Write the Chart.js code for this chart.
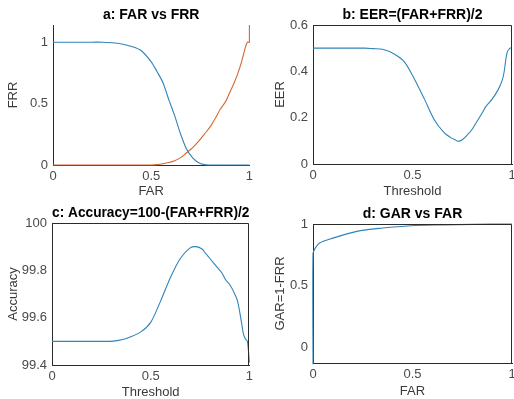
<!DOCTYPE html>
<html><head><meta charset="utf-8">
<script src="https://cdn.jsdelivr.net/npm/chart.js@4.4.0/dist/chart.umd.min.js"></script>
<style>
html,body{margin:0;padding:0;width:514px;height:399px;overflow:hidden;background:#fff;}
canvas{position:absolute;display:block;}
</style></head><body>
<canvas id="ca" width="257" height="210" style="left:0;top:0"></canvas>
<canvas id="cb" width="265" height="210" style="left:257px;top:0"></canvas>
<canvas id="cc" width="257" height="210" style="left:0;top:198px"></canvas>
<canvas id="cd" width="265" height="210" style="left:257px;top:198px"></canvas>
<script>
// ---- tick labels ----
const xTicks = [0, 0.5, 1];
const ticksA = [0, 0.5, 1];
const ticksB = [0, 0.2, 0.4, 0.6];
const ticksC = [99.4, 99.6, 99.8, 100];
const ticksD = [0, 0.5, 1];

// ---- panel a: FAR vs FRR ----
const thrA = [0, 0.1, 0.2, 0.25, 0.3, 0.35, 0.4, 0.45, 0.5, 0.53, 0.56, 0.59, 0.62, 0.65, 0.68, 0.71, 0.74, 0.77, 0.8, 0.83, 0.85, 0.88, 0.9, 0.92, 0.94, 0.96, 0.98, 0.99, 1, 1];
const frrA = [1, 1, 1, 1, 0.995, 0.985, 0.965, 0.93, 0.84, 0.76, 0.67, 0.53, 0.4, 0.25, 0.13, 0.06, 0.02, 0.003, 0, 0, 0, 0, 0, 0, 0, 0, 0, 0, 0, 0];
const farA = [0, 0, 0, 0, 0, 0, 0, 0, 0, 0.003, 0.01, 0.02, 0.035, 0.06, 0.1, 0.14, 0.19, 0.25, 0.31, 0.39, 0.45, 0.52, 0.59, 0.66, 0.74, 0.84, 0.96, 1, 1, 1.14];

// ---- panel b: EER ----
const thrB = [0, 0.1, 0.2, 0.26, 0.3, 0.35, 0.41, 0.46, 0.51, 0.56, 0.61, 0.66, 0.69, 0.72, 0.73, 0.75, 0.77, 0.8, 0.82, 0.85, 0.87, 0.9, 0.93, 0.95, 0.96, 0.975, 0.99, 1];
const eerB = [0.5, 0.5, 0.5, 0.5, 0.498, 0.495, 0.474, 0.44, 0.366, 0.28, 0.19, 0.134, 0.115, 0.102, 0.098, 0.105, 0.12, 0.15, 0.178, 0.22, 0.25, 0.28, 0.32, 0.36, 0.395, 0.48, 0.5, 0.5];

// ---- panel c: Accuracy ----
const thrC = [0, 0.1, 0.2, 0.29, 0.33, 0.38, 0.45, 0.5, 0.55, 0.6, 0.65, 0.7, 0.73, 0.76, 0.78, 0.8, 0.83, 0.86, 0.88, 0.9, 0.92, 0.94, 0.96, 0.97, 0.98, 0.99, 1];
const accC = [99.5, 99.5, 99.5, 99.5, 99.503, 99.513, 99.54, 99.58, 99.67, 99.77, 99.85, 99.895, 99.9, 99.89, 99.87, 99.85, 99.82, 99.79, 99.76, 99.74, 99.71, 99.67, 99.58, 99.53, 99.51, 99.5, 99.41];

// ---- panel d: GAR vs FAR ----
const farD = [0, 0, 0.01, 0.033, 0.1, 0.22, 0.35, 0.49, 0.65, 0.8, 1];
const garD = [-0.14, 0.76, 0.8, 0.845, 0.885, 0.94, 0.967, 0.986, 0.993, 0.997, 1];

const F = '"Liberation Sans", Arial, sans-serif';
const BLUE = '#2f84b8', ORANGE = '#d6682f', AXIS = '#2b2b2b', TICK = '#4a4a4a', LAB = '#3a3a3a';

const boxPlugin = {
  id: 'box',
  afterDatasetsDraw(chart, args, opts) {
    if (!opts.on) return;
    const a = chart.chartArea, ctx = chart.ctx;
    ctx.save();
    ctx.strokeStyle = AXIS; ctx.lineWidth = 1;
    const t = Math.round(a.top) + 0.5, r = Math.round(a.right) - 0.5;
    ctx.beginPath();
    ctx.moveTo(a.left, t); ctx.lineTo(r, t); ctx.lineTo(r, a.bottom);
    ctx.stroke();
    ctx.restore();
  }
};

function pts(xs, ys) { return xs.map((x, i) => ({x: x, y: ys[i]})); }

function panel(id, g) {
  new Chart(document.getElementById(id), {
    type: 'line',
    data: { datasets: g.sets.map(s => ({
      data: s.data, borderColor: s.color, borderWidth: 1.1, pointRadius: 0,
      tension: 0.3, fill: false, clip: 2
    })) },
    options: {
      responsive: false, animation: false, events: [],
      layout: { padding: { left: 0, right: g.pr, top: 0, bottom: 0 } },
      plugins: {
        legend: { display: false }, tooltip: { enabled: false },
        title: { display: true, text: g.title, fullSize: false, color: '#000',
          font: { family: F, size: 14, weight: 'bold' }, padding: { top: g.tt, bottom: 1.6 } },
        box: { on: g.box }
      },
      scales: {
        x: {
          type: 'linear', min: 0, max: 1,
          afterBuildTicks: s => { s.ticks = xTicks.map(v => ({value: v})); },
          afterFit: s => { s.height = g.xh; },
          grid: { display: false, drawTicks: false },
          border: { display: true, color: AXIS, width: 1 },
          ticks: { padding: 4, color: TICK, font: { family: F, size: 13 }, maxRotation: 0, autoSkip: false, callback: v => String(v) },
          title: { display: true, text: g.xl, color: LAB, font: { family: F, size: 13 }, padding: { top: 0, bottom: g.xlb } }
        },
        y: {
          type: 'linear', min: g.ymin, max: g.ymax,
          afterBuildTicks: s => { s.ticks = g.yt.map(v => ({value: v})); },
          afterFit: s => { s.width = g.yw; },
          grid: { display: false, drawTicks: false },
          border: { display: true, color: AXIS, width: 1 },
          ticks: { padding: 5, color: TICK, font: { family: F, size: 13 }, autoSkip: false, callback: v => String(v) },
          title: { display: true, text: g.yl, color: LAB, font: { family: F, size: 13 }, padding: { top: g.ylp, bottom: 0 } }
        }
      }
    },
    plugins: [boxPlugin]
  });
}

panel('ca', { title: 'a: FAR vs FRR', xl: 'FAR', yl: 'FRR', ymin: 0, ymax: 1.14, yt: ticksA,
  pr: 7, yw: 53, xh: 45, tt: 6.6, ylp: 5.2, xlb: 11.2, box: false,
  sets: [{ data: pts(thrA, frrA), color: BLUE }, { data: pts(thrA, farA), color: ORANGE }] });

panel('cb', { title: 'b: EER=(FAR+FRR)/2', xl: 'Threshold', yl: 'EER', ymin: 0, ymax: 0.6, yt: ticksB,
  pr: 10, yw: 56, xh: 46, tt: 6.6, ylp: 15.2, xlb: 11.2, box: true,
  sets: [{ data: pts(thrB, eerB), color: BLUE }] });

panel('cc', { title: 'c: Accuracy=100-(FAR+FRR)/2', xl: 'Threshold', yl: 'Accuracy', ymin: 99.4, ymax: 100, yt: ticksC,
  pr: 7, yw: 52, xh: 43, tt: 6.6, ylp: 5.2, xlb: 8.2, box: true,
  sets: [{ data: pts(thrC, accC), color: BLUE }] });

panel('cd', { title: 'd: GAR vs FAR', xl: 'FAR', yl: 'GAR=1-FRR', ymin: -0.13, ymax: 1, yt: ticksD,
  pr: 10, yw: 56, xh: 45, tt: 7.6, ylp: 15.2, xlb: 9.2, box: true,
  sets: [{ data: pts(farD, garD), color: BLUE }] });
</script>
</body></html>
